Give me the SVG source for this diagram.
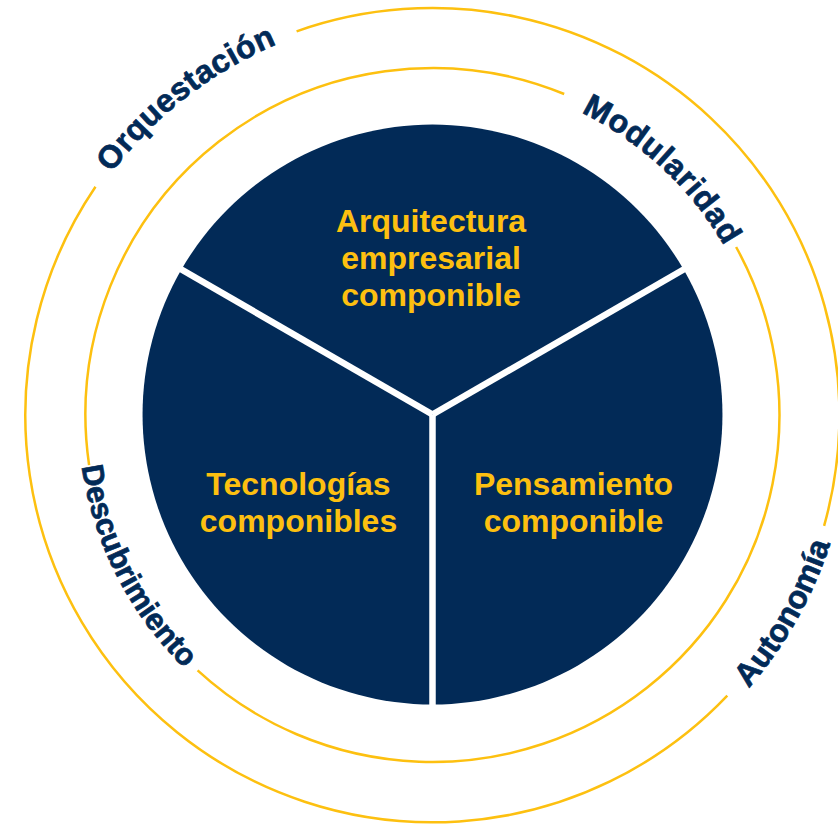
<svg xmlns="http://www.w3.org/2000/svg" width="838" height="825" viewBox="0 0 838 825">
  <style>
    .ring { fill: none; stroke: #FDC010; stroke-width: 2.5; }
    .sector { fill: #022A57; }
    .divider { stroke: #FFFFFF; stroke-width: 6.5; fill: none; }
    .main { font-family: "Liberation Sans", Arial, sans-serif; font-weight: 700; font-size: 32px; fill: #FDC010; text-anchor: middle; }
    .ringlabel { font-family: "Liberation Sans", Arial, sans-serif; font-weight: 700; font-size: 32px; fill: #022A57; stroke: #022A57; stroke-width: 0.7; text-anchor: middle; }
  </style>
  <defs>
    <path id="p-orq" d="M39.5,330.4 A402,402 0 0 1 447.6,13.3"/>
    <path id="p-mod" d="M450.8,78.5 A337,337 0 0 1 767.1,374.6"/>
    <path id="p-des" d="M87.1,335.2 A354.5,354.5 0 0 0 294.0,741.3"/>
    <path id="p-aut" d="M579.7,806.2 A418,418 0 0 0 843.4,338.0"/>
  </defs>

  <g id="rings">
    <path class="ring" d="M296.6,31.4 A407,407 0 0 1 824.1,525.8"/>
    <path class="ring" d="M727.3,695.7 A407,407 0 0 1 95.5,186.8"/>
    <path class="ring" d="M736.1,247.0 A347,347 0 0 1 197.6,670.4"/>
    <path class="ring" d="M89.1,465.1 A347,347 0 0 1 564.2,94.0"/>
  </g>

  <g id="node-arquitectura">
    <path class="sector" d="M432.5,414.5 L181.4,269.5 A290,290 0 0 1 683.6,269.5 Z"/>
    <text class="main" x="431" y="232">Arquitectura</text>
    <text class="main" x="431" y="269">empresarial</text>
    <text class="main" x="431" y="306">componible</text>
  </g>

  <g id="node-pensamiento">
    <path class="sector" d="M432.5,414.5 L683.6,269.5 A290,290 0 0 1 432.5,704.5 Z"/>
    <text class="main" x="573.5" y="495">Pensamiento</text>
    <text class="main" x="573.5" y="532">componible</text>
  </g>

  <g id="node-tecnologias">
    <path class="sector" d="M432.5,414.5 L432.5,704.5 A290,290 0 0 1 181.4,269.5 Z"/>
    <text class="main" x="298.5" y="495">Tecnologías</text>
    <text class="main" x="298.5" y="532">componibles</text>
  </g>

  <g id="connectors">
    <line class="divider" x1="432.5" y1="414.5" x2="432.5" y2="712"/>
    <line class="divider" x1="432.5" y1="414.5" x2="169.3" y2="262.5"/>
    <line class="divider" x1="432.5" y1="414.5" x2="695.7" y2="262.5"/>
  </g>

  <g id="labels">
    <text class="ringlabel" letter-spacing="0.5"><textPath href="#p-orq" startOffset="50%">Orquestación</textPath></text>
    <text class="ringlabel" letter-spacing="0.8"><textPath href="#p-mod" startOffset="50%">Modularidad</textPath></text>
    <text class="ringlabel" style="font-size:30.5px"><textPath href="#p-des" startOffset="50%">Descubrimiento</textPath></text>
    <text class="ringlabel"><textPath href="#p-aut" startOffset="50%">Autonomía</textPath></text>
  </g>
</svg>
